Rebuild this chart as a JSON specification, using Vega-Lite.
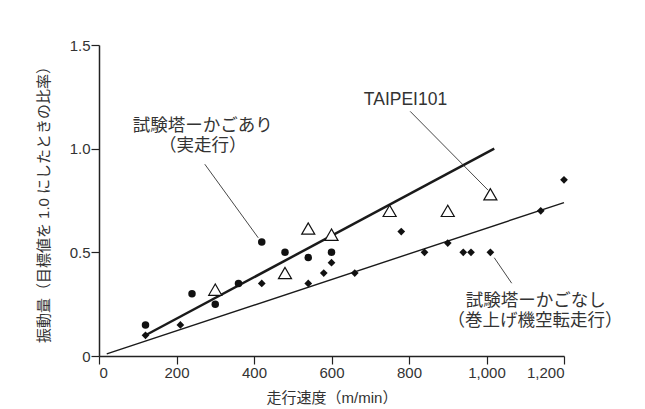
{
  "$schema": "https://vega.github.io/schema/vega-lite/v6.json",
  "width": 465,
  "height": 311,
  "autosize": "none",
  "padding": {"left": 99, "top": 45, "right": 81, "bottom": 53},
  "background": "white",
  "config": {
    "view": {"stroke": null},
    "font": "Liberation Sans, Noto Sans CJK JP",
    "axis": {
      "grid": false,
      "domainColor": "#222", "domainWidth": 1.5,
      "tickColor": "#222", "tickWidth": 1.2, "tickSize": 8,
      "labelFontSize": 15, "labelColor": "#333", "labelPadding": 1,
      "labelFont": "Liberation Sans",
      "titleFontSize": 15, "titleFontWeight": 400, "titleColor": "#333",
      "titleFont": "Liberation Sans, Noto Sans CJK JP"
    }
  },
  "datasets": {
    "points": [
      {"series": "かごあり", "speed": 120, "ratio": 0.15},
      {"series": "かごあり", "speed": 240, "ratio": 0.30},
      {"series": "かごあり", "speed": 300, "ratio": 0.25},
      {"series": "かごあり", "speed": 360, "ratio": 0.35},
      {"series": "かごあり", "speed": 420, "ratio": 0.55},
      {"series": "かごあり", "speed": 480, "ratio": 0.50},
      {"series": "かごあり", "speed": 540, "ratio": 0.475},
      {"series": "かごあり", "speed": 600, "ratio": 0.50},
      {"series": "TAIPEI101", "speed": 300, "ratio": 0.32},
      {"series": "TAIPEI101", "speed": 480, "ratio": 0.40},
      {"series": "TAIPEI101", "speed": 540, "ratio": 0.615},
      {"series": "TAIPEI101", "speed": 600, "ratio": 0.585},
      {"series": "TAIPEI101", "speed": 750, "ratio": 0.70},
      {"series": "TAIPEI101", "speed": 900, "ratio": 0.70},
      {"series": "TAIPEI101", "speed": 1010, "ratio": 0.78},
      {"series": "かごなし", "speed": 120, "ratio": 0.10},
      {"series": "かごなし", "speed": 210, "ratio": 0.15},
      {"series": "かごなし", "speed": 420, "ratio": 0.35},
      {"series": "かごなし", "speed": 540, "ratio": 0.35},
      {"series": "かごなし", "speed": 580, "ratio": 0.40},
      {"series": "かごなし", "speed": 600, "ratio": 0.45},
      {"series": "かごなし", "speed": 660, "ratio": 0.40},
      {"series": "かごなし", "speed": 780, "ratio": 0.60},
      {"series": "かごなし", "speed": 840, "ratio": 0.50},
      {"series": "かごなし", "speed": 900, "ratio": 0.545},
      {"series": "かごなし", "speed": 940, "ratio": 0.50},
      {"series": "かごなし", "speed": 960, "ratio": 0.50},
      {"series": "かごなし", "speed": 1010, "ratio": 0.50},
      {"series": "かごなし", "speed": 1140, "ratio": 0.70},
      {"series": "かごなし", "speed": 1200, "ratio": 0.85}
    ],
    "fits": [
      {"series": "かごあり", "speed": 120, "ratio": 0.10},
      {"series": "かごあり", "speed": 1020, "ratio": 1.0},
      {"series": "かごなし", "speed": 20, "ratio": 0.01},
      {"series": "かごなし", "speed": 1200, "ratio": 0.74}
    ],
    "leaders": [
      {"speed": 273, "ratio": 0.925, "speed2": 411, "ratio2": 0.57},
      {"speed": 803, "ratio": 1.18, "speed2": 1004, "ratio2": 0.80},
      {"speed": 1020, "ratio": 0.474, "speed2": 1065, "ratio2": 0.351}
    ],
    "notes": [
      {"speed": 268, "ratio": 1.108, "label": "試験塔ーかごあり"},
      {"speed": 268, "ratio": 1.013, "label": "（実走行）"},
      {"speed": 791, "ratio": 1.235, "label": "TAIPEI101"},
      {"speed": 1127, "ratio": 0.266, "label": "試験塔ーかごなし"},
      {"speed": 1125, "ratio": 0.170, "label": "（巻上げ機空転走行）"}
    ]
  },
  "encoding": {
    "x": {
      "field": "speed", "type": "quantitative",
      "title": "走行速度（m/min）",
      "scale": {"domain": [0, 1200], "nice": false, "zero": false},
      "axis": {
        "title": "走行速度（m/min）",
        "values": [0, 200, 400, 600, 800, 1000, 1200],
        "format": ",.0f",
        "titlePadding": 10,
        "titleFontWeight": 400,
        "encode": {"ticks": {"update": {"y2": {"value": -8}}}}
      }
    },
    "y": {
      "field": "ratio", "type": "quantitative",
      "title": "振動量（目標値を 1.0 にしたときの比率）",
      "scale": {"domain": [0, 1.5], "nice": false, "zero": false},
      "axis": {
        "title": "振動量（目標値を 1.0 にしたときの比率）",
        "values": [0, 0.5, 1, 1.5],
        "labelExpr": "datum.value == 0 ? '0' : format(datum.value, '.1f')",
        "titlePadding": 18,
        "titleFontWeight": 400,
        "encode": {"ticks": {"update": {"x2": {"value": 8}}}}
      }
    }
  },
  "layer": [
    {
      "data": {"name": "fits"},
      "transform": [{"filter": "datum.series == 'かごあり'"}],
      "mark": {"type": "line", "color": "#1a1a1a", "strokeWidth": 2.5}
    },
    {
      "data": {"name": "fits"},
      "transform": [{"filter": "datum.series == 'かごなし'"}],
      "mark": {"type": "line", "color": "#1a1a1a", "strokeWidth": 1.4}
    },
    {
      "data": {"name": "leaders"},
      "mark": {"type": "rule", "color": "#333", "strokeWidth": 0.9},
      "encoding": {
        "x2": {"field": "speed2"},
        "y2": {"field": "ratio2"}
      }
    },
    {
      "data": {"name": "points"},
      "transform": [{"filter": "datum.series == 'かごあり'"}],
      "mark": {"type": "point", "shape": "circle", "filled": true, "color": "#111", "size": 56, "opacity": 1}
    },
    {
      "data": {"name": "points"},
      "transform": [{"filter": "datum.series == 'かごなし'"}],
      "mark": {"type": "point", "shape": "diamond", "filled": true, "color": "#111", "size": 60, "opacity": 1}
    },
    {
      "data": {"name": "points"},
      "transform": [{"filter": "datum.series == 'TAIPEI101'"}],
      "mark": {"type": "point", "shape": "triangle-up", "filled": true, "fill": "white", "stroke": "#111", "strokeWidth": 1.2, "size": 170, "opacity": 1}
    },
    {
      "data": {"name": "notes"},
      "mark": {"type": "text", "font": "Liberation Sans, Noto Sans CJK JP", "fontSize": 17.5, "color": "#333", "align": "center", "baseline": "middle"},
      "encoding": {
        "text": {"field": "label"}
      }
    }
  ]
}
